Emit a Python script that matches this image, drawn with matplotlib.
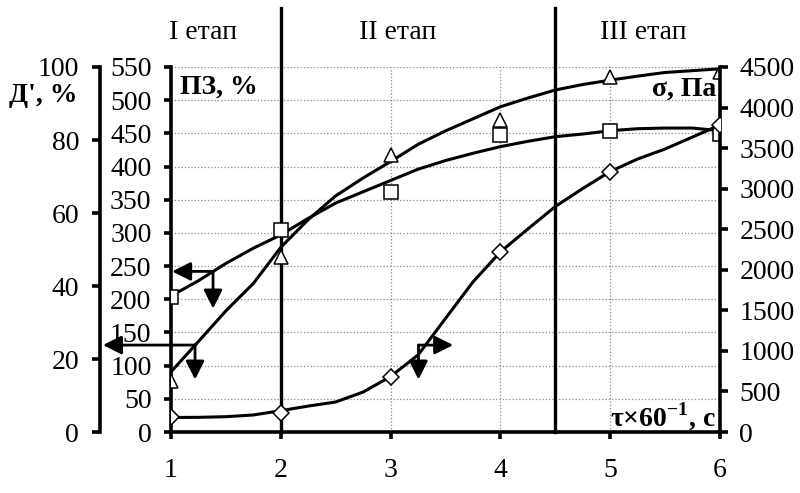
import matplotlib
matplotlib.use("Agg")
import matplotlib.pyplot as plt

plt.rcParams['font.family'] = ['Liberation Serif', 'DejaVu Serif']
plt.rcParams['font.size'] = 20
plt.rcParams['mathtext.fontset'] = 'custom'
plt.rcParams['mathtext.rm'] = 'Liberation Serif'
plt.rcParams['mathtext.bf'] = 'Liberation Serif:bold'

# measured points
x_pts = [1, 2, 3, 4, 5, 6]
pz_pts = [203, 304, 362, 448, 454, 449]          # ПЗ, %  (squares)
d_pts = [14, 48, 76, 85.5, 97.3, 98.7]           # Д', %  (triangles)
sigma_pts = [181, 230, 682, 2223, 3210, 3785]    # σ, Па  (diamonds)

# smoothed curves
x_curve = [1, 1.25, 1.5, 1.75, 2, 2.25, 2.5, 2.75, 3, 3.25, 3.5,
           3.75, 4, 4.25, 4.5, 4.75, 5, 5.25, 5.5, 5.75, 6]
pz_curve = [205, 228, 254, 277, 297, 322, 345, 362, 379, 396, 409,
            420, 430, 438, 445, 449, 454, 457, 458, 458, 454]
d_curve = [16.5, 24.8, 33.2, 40.7, 50.6, 58.2, 64.7, 69.6, 74.1, 78.8, 82.5,
           85.8, 89.1, 91.5, 93.7, 95.2, 96.4, 97.5, 98.5, 99.0, 99.5]
sigma_curve = [179, 181, 189, 210, 263, 320, 370, 493, 684, 950, 1400,
               1850, 2220, 2503, 2780, 3002, 3212, 3366, 3489, 3637, 3785]

stage_lines = [2, 4.5]
stage_labels = ["I етап", "II етап", "III етап"]
stage_label_x = [1.29, 3.06, 5.3]

fig = plt.figure(figsize=(8, 4.93), dpi=100)
ax = fig.add_axes([0.21375, 0.1237, 0.68625, 0.7404])
ax_d = ax.twinx()
ax_s = ax.twinx()

lw_sp = 2.6
ax.set_xlim(1, 6)
ax.set_ylim(0, 550)
ax.set_yticks(range(0, 551, 50))
ax.set_xticks(x_pts)
ax.spines['top'].set_visible(False)
ax.spines['right'].set_visible(False)
ax.spines['left'].set_linewidth(lw_sp)
ax.spines['bottom'].set_linewidth(lw_sp)
ax.tick_params(axis='y', direction='out', length=5, width=lw_sp, pad=9)
ax.tick_params(axis='x', direction='out', length=5, width=lw_sp, pad=14)
for v in range(50, 551, 50):
    ax.axhline(v, color='#888888', lw=0.9, ls=':', zorder=0)
for v in [3, 4, 5]:
    ax.axvline(v, color='#888888', lw=0.9, ls=':', zorder=0)

# Д' axis on the far left
ax_d.set_ylim(0, 100)
ax_d.set_yticks(range(0, 101, 20))
ax_d.yaxis.set_ticks_position('left')
ax_d.spines['left'].set_position(('axes', (100 - 171) / 549))
ax_d.spines['left'].set_visible(True)
ax_d.spines['left'].set_linewidth(lw_sp)
for s in ['top', 'right', 'bottom']:
    ax_d.spines[s].set_visible(False)
ax_d.tick_params(axis='y', direction='out', length=6, width=lw_sp, pad=9)

# σ axis on the right
ax_s.set_ylim(0, 4500)
ax_s.set_yticks(range(0, 4501, 500))
for s in ['top', 'left', 'bottom']:
    ax_s.spines[s].set_visible(False)
ax_s.spines['right'].set_linewidth(lw_sp)
ax_s.tick_params(axis='y', direction='out', length=6, width=lw_sp, pad=8)

# curves and markers
mk = dict(ls='none', mfc='white', mec='black', mew=1.1, ms=10, zorder=5)
ax.plot(x_curve, pz_curve, color='black', lw=2.2, zorder=4)
ax.plot(x_pts, pz_pts, marker='s', **mk)
ax_d.plot(x_curve, d_curve, color='black', lw=2.2, zorder=4)
ax_d.plot(x_pts, d_pts, marker='^', **mk)
ax_s.plot(x_curve, sigma_curve, color='black', lw=2.2, zorder=4)
ax_s.plot(x_pts, sigma_pts, marker='D', **dict(mk, ms=8))

# stage separators
for xv in stage_lines:
    ax.axvline(xv, ymin=0, ymax=1.162, color='black', lw=2.4, clip_on=False, zorder=3)
for xv, lab in zip(stage_label_x, stage_labels):
    ax.text(xv, 1.095, lab, transform=ax.get_xaxis_transform(),
            ha='center', va='center', fontsize=20)

# arrows showing which axis each curve belongs to
ap = dict(arrowstyle='-|>', color='black', lw=2, mutation_scale=28,
          shrinkA=0, shrinkB=0)
ax.annotate('', xy=(1.01, 242), xytext=(1.383, 242), arrowprops=ap, annotation_clip=False)
ax.annotate('', xy=(1.383, 186), xytext=(1.383, 242), arrowprops=ap, annotation_clip=False)
ax.annotate('', xy=(0.38, 131), xytext=(1.219, 131), arrowprops=ap, annotation_clip=False)
ax.annotate('', xy=(1.219, 79), xytext=(1.219, 131), arrowprops=ap, annotation_clip=False)
ax.annotate('', xy=(3.57, 131), xytext=(3.254, 131), arrowprops=ap, annotation_clip=False)
ax.annotate('', xy=(3.254, 79), xytext=(3.254, 131), arrowprops=ap, annotation_clip=False)

# axis titles
fig.text(43 / 800, 1 - 95 / 493, "Д', %", ha='center', va='center',
         fontsize=20, fontweight='bold')
fig.text(180 / 800, 1 - 87 / 493, "ПЗ, %", ha='left', va='center',
         fontsize=20, fontweight='bold')
fig.text(716 / 800, 1 - 89 / 493, "σ, Па", ha='right', va='center',
         fontsize=20, fontweight='bold')
fig.text(716 / 800, 1 - 426 / 493, r"τ×60$^{\mathbf{-1}}$, с", ha='right',
         va='baseline', fontsize=20, fontweight='bold')

fig.savefig("out.png", dpi=100)
